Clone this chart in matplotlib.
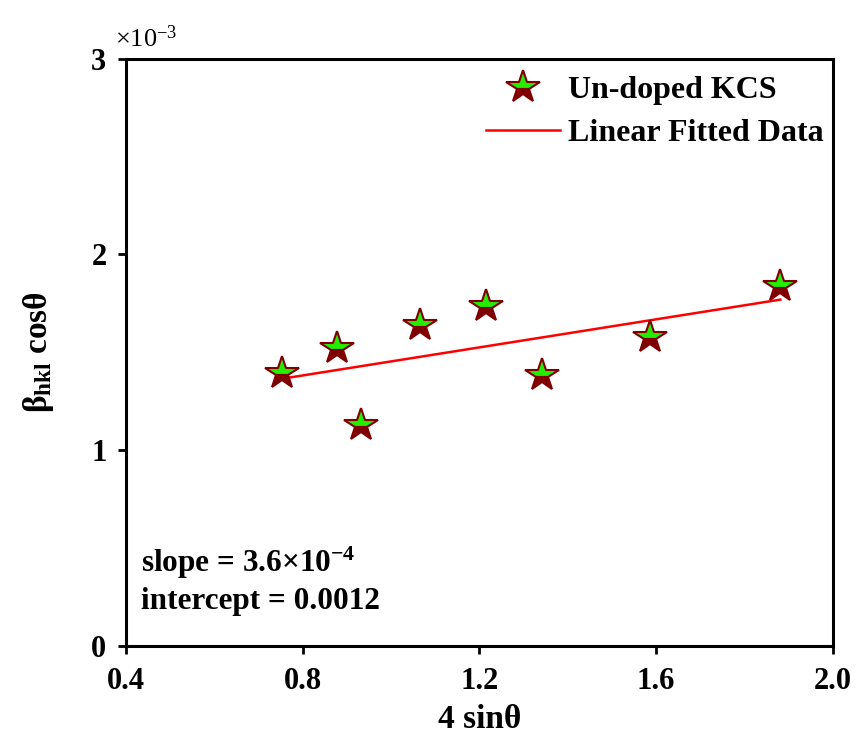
import numpy as np
import matplotlib
matplotlib.use("Agg")
import matplotlib.pyplot as plt
from matplotlib.ticker import FixedLocator, FuncFormatter

# ── data (beta_hkl cos(theta) vs 4 sin(theta)) ─────────────────────────────
x_vals = [0.753, 0.877, 0.932, 1.065, 1.215, 1.341, 1.587, 1.881]
y_vals = [1.393e-3, 1.521e-3, 1.127e-3, 1.639e-3, 1.738e-3, 1.385e-3, 1.577e-3, 1.838e-3]
x_ticks = [0.4, 0.8, 1.2, 1.6, 2.0]
y_ticks = [0, 1e-3, 2e-3, 3e-3]

plt.rcParams["font.family"] = ["Liberation Serif", "DejaVu Serif"]
plt.rcParams["font.weight"] = "bold"
plt.rcParams["mathtext.default"] = "regular"

fig = plt.figure(figsize=(8.56, 7.37), dpi=100, facecolor="white")
ax = fig.add_axes([0.147, 0.1235, 0.826, 0.797])

x = np.array(x_vals)
y = np.array(y_vals)
slope, icpt = np.polyfit(x, y, 1)

ax.plot(x, y, linestyle="none", marker="*", markersize=25, fillstyle="top",
        markerfacecolor="#22ee00", markerfacecoloralt="#800000",
        markeredgecolor="#800000", markeredgewidth=1.5,
        label="Un-doped KCS", zorder=3)
ax.plot(x, slope * x + icpt, color="red", linewidth=1.8,
        label="Linear Fitted Data", zorder=2)

ax.set_xlim(0.4, 2.0)
ax.set_ylim(0, 3e-3)
ax.xaxis.set_major_locator(FixedLocator(x_ticks))
ax.yaxis.set_major_locator(FixedLocator(y_ticks))
ax.xaxis.set_major_formatter(FuncFormatter(lambda v, p: f"{v:.1f}"))
ax.yaxis.set_major_formatter(FuncFormatter(lambda v, p: f"{v * 1e3:.0f}"))

for sp in ax.spines.values():
    sp.set_linewidth(2.2)
ax.tick_params(direction="out", length=6, width=2, labelsize=22)
ax.tick_params(axis="x", pad=9)
ax.tick_params(axis="y", pad=8)

ax.set_xlabel("4 sinθ", fontsize=24, fontweight="bold", labelpad=6)
ax.set_ylabel("β$_{hkl}$ cosθ", fontsize=24, fontweight="bold", labelpad=25)

ax.text(-0.016, 1.012, r"$\times$10$^{-3}$", transform=ax.transAxes,
        fontsize=19, fontweight="normal", ha="left", va="bottom")

ax.text(0.022, 0.141, "slope = 3.6×10$^{-4}$", transform=ax.transAxes,
        fontsize=22.5, fontweight="bold", ha="left", va="center")
ax.text(0.022, 0.075, "intercept = 0.0012", transform=ax.transAxes,
        fontsize=22.5, fontweight="bold", ha="left", va="center")

ax.legend(loc="upper right", bbox_to_anchor=(1.016, 1.006), frameon=False,
          fontsize=23, handlelength=2.3, handletextpad=0.25,
          labelspacing=0.42, borderaxespad=0.25)

fig.savefig("out.png", dpi=100, facecolor="white")
